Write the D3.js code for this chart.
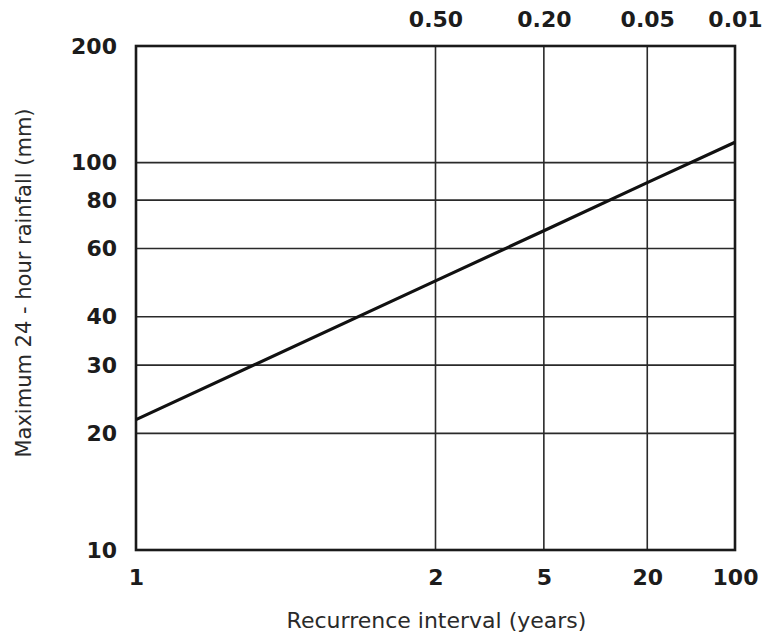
<!DOCTYPE html>
<html>
<head>
<meta charset="utf-8">
<script src="https://cdn.jsdelivr.net/npm/d3@7"></script>
<style>
  body { margin: 0; background: #fff; }
  svg { display: block; }
</style>
</head>
<body>
<svg></svg>
<script>
// recurrence intervals and their exceedance probabilities (normal probability paper)
var intervals = ["1", "2", "5", "20", "100"];
var exceedProb = [0.99, 0.50, 0.20, 0.05, 0.01];
var probLabels = ["0.50", "0.20", "0.05", "0.01"];
// rainfall at each interval (mm)
var rainfall = [21.7, 49.5, 66.7, 88.8, 112.9];
var yTicks = [10, 20, 30, 40, 60, 80, 100, 200];
var yGrid = [20, 30, 40, 60, 80, 100];

var svgWidth = 763, svgHeight = 642;
var margin = {top: 46, right: 28, bottom: 92, left: 136};
var width = svgWidth - margin.left - margin.right;
var height = svgHeight - margin.top - margin.bottom;

// inverse normal cdf (Acklam)
function probit(p) {
  var a = [-39.6968302866538, 220.946098424521, -275.928510446969, 138.357751867269, -30.6647980661472, 2.50662827745924];
  var b = [-54.4760987982241, 161.585836858041, -155.698979859887, 66.8013118877197, -13.2806815528857];
  var c = [-0.00778489400243029, -0.322396458041136, -2.40076064926540, -2.54973253934373, 4.37466414146497, 2.93816398269878];
  var d = [0.00778469570904146, 0.322467129070040, 2.44513413714300, 3.75440866190742];
  var q, r;
  if (p < 0.02425) {
    q = Math.sqrt(-2 * Math.log(p));
    return (((((c[0]*q+c[1])*q+c[2])*q+c[3])*q+c[4])*q+c[5]) / ((((d[0]*q+d[1])*q+d[2])*q+d[3])*q+1);
  } else if (p > 1 - 0.02425) {
    q = Math.sqrt(-2 * Math.log(1 - p));
    return -(((((c[0]*q+c[1])*q+c[2])*q+c[3])*q+c[4])*q+c[5]) / ((((d[0]*q+d[1])*q+d[2])*q+d[3])*q+1);
  }
  q = p - 0.5; r = q * q;
  return (((((a[0]*r+a[1])*r+a[2])*r+a[3])*r+a[4])*r+a[5])*q / (((((b[0]*r+b[1])*r+b[2])*r+b[3])*r+b[4])*r+1);
}
function z(p) { return probit(1 - p); }

var x = d3.scaleLinear()
    .domain([z(0.99), z(0.01)])
    .range([0, width]);

var y = d3.scaleLog()
    .domain([10, 200])
    .range([height, 0]);

var svg = d3.select("svg")
    .attr("width", svgWidth)
    .attr("height", svgHeight);

var g = svg.append("g")
    .attr("transform", "translate(" + margin.left + "," + margin.top + ")");

// horizontal grid
g.selectAll(".hgrid")
    .data(yGrid)
    .enter()
    .append("line")
    .attr("class", "hgrid")
    .attr("x1", 0).attr("x2", width)
    .attr("y1", function(d) { return y(d); })
    .attr("y2", function(d) { return y(d); })
    .attr("stroke", "#2a2a2a")
    .attr("stroke-width", 1.6);

// vertical grid (skip the two edges)
g.selectAll(".vgrid")
    .data(exceedProb.slice(1, 4))
    .enter()
    .append("line")
    .attr("class", "vgrid")
    .attr("y1", 0).attr("y2", height)
    .attr("x1", function(d) { return x(z(d)); })
    .attr("x2", function(d) { return x(z(d)); })
    .attr("stroke", "#2a2a2a")
    .attr("stroke-width", 1.6);

// frame
g.append("rect")
    .attr("x", 0).attr("y", 0)
    .attr("width", width).attr("height", height)
    .attr("fill", "none")
    .attr("stroke", "#1a1a1a")
    .attr("stroke-width", 2.6);

// rainfall line
var pts = exceedProb.map(function(p, i) { return [p, rainfall[i]]; });
var line = d3.line()
    .x(function(d) { return x(z(d[0])); })
    .y(function(d) { return y(d[1]); });

g.append("path")
    .datum(pts)
    .attr("d", line)
    .attr("fill", "none")
    .attr("stroke", "#111")
    .attr("stroke-width", 3.2);

// axes
var tickFont = function(sel) {
  sel.select(".domain").remove();
  sel.selectAll(".tick line").remove();
  sel.selectAll("text")
    .attr("fill", "#1c1c1c")
    .style("font-family", "'DejaVu Sans', sans-serif")
    .style("font-weight", "bold")
    .style("font-size", "22px");
};

var yAxis = d3.axisLeft(y)
    .tickValues(yTicks)
    .tickFormat(d3.format("d"))
    .tickSize(0)
    .tickPadding(19);
g.append("g").call(yAxis).call(tickFont);

var xAxis = d3.axisBottom(x)
    .tickValues(exceedProb.map(z))
    .tickFormat(function(d, i) { return intervals[i]; })
    .tickSize(0)
    .tickPadding(19);
g.append("g")
    .attr("transform", "translate(0," + height + ")")
    .call(xAxis).call(tickFont);

var topAxis = d3.axisTop(x)
    .tickValues(exceedProb.slice(1).map(z))
    .tickFormat(function(d, i) { return probLabels[i]; })
    .tickSize(0)
    .tickPadding(19);
g.append("g").call(topAxis).call(tickFont);

// axis titles
svg.append("text")
    .attr("x", margin.left + x(0) + 1)
    .attr("y", 628)
    .attr("text-anchor", "middle")
    .attr("fill", "#2a2a2a")
    .style("font-family", "'DejaVu Sans', sans-serif")
    .style("font-size", "22px")
    .text("Recurrence interval (years)");

svg.append("text")
    .attr("transform", "translate(31,283) rotate(-90)")
    .attr("text-anchor", "middle")
    .attr("fill", "#2a2a2a")
    .style("font-family", "'DejaVu Sans', sans-serif")
    .style("font-size", "21px")
    .text("Maximum 24 - hour rainfall (mm)");
</script>
</body>
</html>
